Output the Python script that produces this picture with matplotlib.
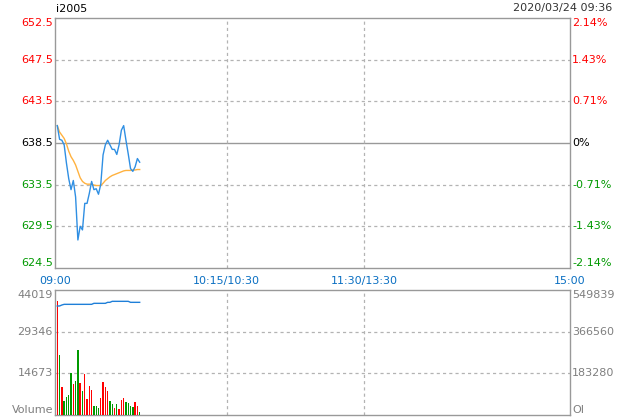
import matplotlib
matplotlib.use("Agg")
import matplotlib.pyplot as plt
import matplotlib.transforms as mtransforms

# ---------------- data ----------------
symbol = "i2005"
stamp = "2020/03/24 09:36"
prev_close = 638.5
pct_span = 2.14  # percent range of the price axis

left_price_labels = ["652.5", "647.5", "643.5", "638.5", "633.5", "629.5", "624.5"]
right_pct_labels = ["2.14%", "1.43%", "0.71%", "0%", "-0.71%", "-1.43%", "-2.14%"]
time_labels = ["09:00", "10:15/10:30", "11:30/13:30", "15:00"]
time_ticks = [0, 75, 135, 225]          # trading minutes since open
session_minutes = 225

minutes = list(range(1, 38))
price = [640.4, 638.9, 638.8, 638.3, 636.3, 634.6, 633.4, 634.4, 632.6, 627.9,
         629.4, 629.0, 631.9, 631.9, 633.0, 634.3, 633.4, 633.5, 632.9, 634.0,
         637.2, 638.3, 638.8, 638.3, 637.8, 637.8, 637.25, 638.3, 639.9, 640.4,
         638.8, 637.3, 635.7, 635.4, 635.9, 636.8, 636.4]
avg_price = [640.4, 639.7, 639.35, 639.0, 638.4, 637.6, 637.0, 636.6, 636.1, 635.4,
             634.7, 634.3, 634.1, 634.0, 634.0, 634.0, 633.9, 633.85, 633.85, 633.85,
             634.1, 634.4, 634.6, 634.8, 634.95, 635.05, 635.15, 635.25, 635.35, 635.45,
             635.5, 635.5, 635.5, 635.55, 635.55, 635.6, 635.6]
volume = [40150, 21130, 9860, 4930, 6340, 7040, 14790, 10920, 11970, 22890,
          11270, 8450, 14440, 5640, 10210, 8800, 3170, 3170, 2470, 5990,
          11620, 9860, 8450, 4930, 3870, 2470, 3870, 2110, 5280, 5990,
          4580, 4230, 3170, 2820, 4580, 3170, 1060]
vol_up = [1, 0, 1, 0, 0, 0, 0, 1, 0, 0,
          1, 0, 1, 1, 1, 1, 0, 0, 0, 1,
          1, 1, 1, 0, 0, 1, 0, 1, 1, 1,
          0, 0, 0, 0, 1, 1, 0]
open_interest = [479500, 479500, 483900, 486800, 486800, 486800, 486800, 486800, 486800, 486800,
                 486800, 486800, 486800, 486800, 486800, 486800, 491200, 491200, 491200, 491200,
                 491200, 491200, 495600, 495600, 500000, 500000, 500000, 500000, 500000, 500000,
                 500000, 500000, 495600, 495600, 495600, 495600, 495600]
vol_max = 44019
vol_labels = ["44019", "29346", "14673", "Volume"]
oi_max = 549839
oi_labels = ["549839", "366560", "183280", "OI"]

# ---------------- style ----------------
RED = "#ff0000"
GREEN = "#009900"
BORDER = "#999999"
GRID = "#b3b3b3"
BLUE_T = "#0a6fc2"
GREYT = "#7f7f7f"
FS = 8

plt.rcParams["font.family"] = ["DejaVu Sans"]
fig = plt.figure(figsize=(6.2, 4.2), dpi=100)
W, H = 620, 420

def axes_px(x0, y0, x1, y1):
    return fig.add_axes([x0 / W, 1 - y1 / H, (x1 - x0) / W, (y1 - y0) / H])

# ---------------- price panel ----------------
ax = axes_px(55, 18, 570, 268)
lo = prev_close * (1 - pct_span / 100)
hi = prev_close * (1 + pct_span / 100)
ax.set_xlim(0, session_minutes)
ax.set_ylim(lo, hi)
nlev = len(left_price_labels)
levels = [hi - k * (hi - lo) / (nlev - 1) for k in range(nlev)]
for k, lev in enumerate(levels[1:-1], start=1):
    if k == 3:
        ax.axhline(lev, color=BORDER, lw=1, zorder=1)
    else:
        ax.axhline(lev, color=GRID, lw=0.9, ls=(0, (2.5, 2.5)), zorder=1)
for t in time_ticks[1:-1]:
    ax.axvline(t, color=GRID, lw=0.9, ls=(0, (2.5, 2.5)), zorder=1)

ax.plot(minutes, avg_price, color="#ffb23f", lw=1.0, zorder=3)
ax.plot(minutes, price, color="#2f8fe3", lw=1.0, zorder=4)

for s in ax.spines.values():
    s.set_color(BORDER)
    s.set_linewidth(1)
ax.set_xticks([])
ax.set_yticks([])

trans_l = mtransforms.blended_transform_factory(ax.transAxes, ax.transData)
for k, (lev, lab, rlab) in enumerate(zip(levels, left_price_labels, right_pct_labels)):
    if k < 3:
        col = RED
    elif k == 3:
        col = "black"
    else:
        col = GREEN
    va = "top" if k == 0 else ("bottom" if k == nlev - 1 else "center")
    dy = 0
    ax.text(-0.004, lev, lab, transform=trans_l, ha="right", va=va,
            color=col, fontsize=FS)
    ax.text(1.004, lev, rlab, transform=trans_l, ha="left", va=va,
            color=col, fontsize=FS)

# time labels
trans_t = mtransforms.blended_transform_factory(ax.transData, fig.transFigure)
for t, lab in zip(time_ticks, time_labels):
    ax.text(t, 1 - 281 / H, lab, transform=trans_t, ha="center", va="center",
            color=BLUE_T, fontsize=FS)

fig.text(56 / W, 1 - 8.5 / H, symbol, ha="left", va="center", fontsize=FS, color="black")
fig.text(612 / W, 1 - 8.5 / H, stamp, ha="right", va="center", fontsize=FS, color="#333333")

# ---------------- volume panel ----------------
axv = axes_px(55, 290, 570, 415)
axv.set_xlim(0, session_minutes)
axv.set_ylim(0, vol_max)
bar_cols = [RED if u else GREEN for u in vol_up]
axv.bar(minutes, volume, width=0.6, color=bar_cols, zorder=3, linewidth=0)
for k in (1, 2):
    axv.axhline(vol_max * k / 3, color=GRID, lw=0.9, ls=(0, (2.5, 2.5)), zorder=1)
for t in time_ticks[1:-1]:
    axv.axvline(t, color=GRID, lw=0.9, ls=(0, (2.5, 2.5)), zorder=1)
for s in axv.spines.values():
    s.set_color(BORDER)
    s.set_linewidth(1)
axv.set_xticks([])
axv.set_yticks([])

axo = axv.twinx()
axo.set_ylim(0, oi_max)
axo.plot(minutes, open_interest, color="#1f7fd8", lw=1.0, zorder=4)
axo.set_yticks([])
for s in axo.spines.values():
    s.set_visible(False)

vt = mtransforms.blended_transform_factory(axv.transAxes, axv.transAxes)
for k in range(4):
    yy = 1 - k / 3
    va = "top" if k == 0 else ("bottom" if k == 3 else "center")
    axv.text(-0.004, yy, vol_labels[k], transform=vt, ha="right", va=va,
             color=GREYT, fontsize=FS)
    axv.text(1.004, yy, oi_labels[k], transform=vt, ha="left", va=va,
             color=GREYT, fontsize=FS)

fig.savefig("out.png", dpi=100)
